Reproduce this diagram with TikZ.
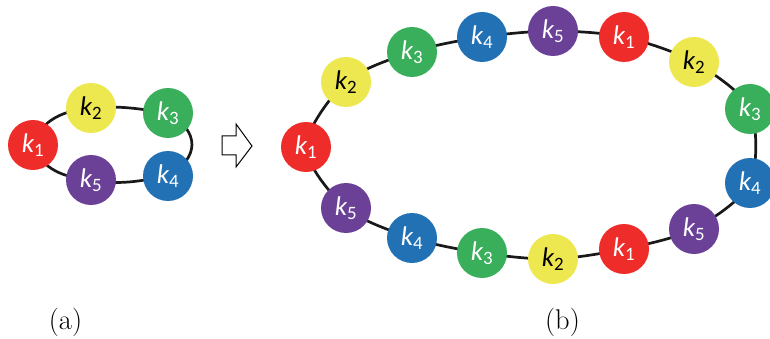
\documentclass[tikz,border=0pt]{standalone}
\usepackage{fontspec}
\usepackage{tikz}
\usetikzlibrary{backgrounds}
\newfontfamily\beadfont{Carlito}
\definecolor{kc1}{RGB}{238,45,42}
\definecolor{kc2}{RGB}{237,232,80}
\definecolor{kc3}{RGB}{57,174,91}
\definecolor{kc4}{RGB}{33,113,180}
\definecolor{kc5}{RGB}{107,65,152}
\colorlet{kt1}{white}
\colorlet{kt2}{black}
\colorlet{kt3}{white}
\colorlet{kt4}{white}
\colorlet{kt5}{white}
\newcommand{\kk}[1]{{\itshape k}\textsubscript{\upshape #1}}
\begin{document}
\begin{tikzpicture}[x = 1pt, y = 1pt,
    bead/.style = { circle, minimum size = 50pt, inner sep = 0pt,
                    font = \beadfont\fontsize{27}{27}\selectfont },
    loop/.style = { line width = 2.7pt, black!90 },
    caption/.style = { font = \fontsize{28.5}{32}\selectfont }]
    \useasboundingbox (0,0) rectangle (770,-339);

    % (a) small ring
    \foreach \n/\x/\y/\k in {1/33/145/1, 2/91/108/2, 3/168/113/3, 4/168/176/4, 5/91/180/5}
      \node [bead, fill = kc\k, text = kt\k] (a\n) at (\x,-\y) { \kk{\k} };
    \begin{scope}[on background layer]
      \draw [loop] (a1.center) to [out = 72, in = 185] (a2.center)
                   to [out = 5, in = 172] (a3.center)
                   to [out = -30, in = 30, looseness = 1.5] (a4.center)
                   to [out = 190, in = -10] (a5.center)
                   to [out = 175, in = -70] (a1.center);
    \end{scope}

    % hollow arrow
    \draw [line width = 1pt] (222,-136) -- (236,-136) -- (236,-124) -- (252,-146)
          -- (236,-167) -- (236,-155) -- (222,-155) -- cycle;

    % (b) large ring
    \foreach \n/\x/\y/\k in {1/306/147/1, 2/346/82/2, 3/412/52/3, 4/482/37/4, 5/553/31/5,
                            6/624/37/1, 7/694/62/2, 8/750/109/3, 9/750/183/4, 10/694/229/5,
                            11/624/249/1, 12/553/259/2, 13/482/253/3, 14/412/238/4, 15/346/208/5}
      \node [bead, fill = kc\k, text = kt\k] (b\n) at (\x,-\y) { \kk{\k} };
    \begin{scope}[on background layer]
      \draw [loop] plot [smooth cycle] coordinates { (b1) (b2) (b3) (b4) (b5) (b6) (b7) (b8)
                                                     (b9) (b10) (b11) (b12) (b13) (b14) (b15) };
    \end{scope}

    \node [caption] (capa) at (65.5,-322) {(a)};
    \node [caption] (capb) at (562.5,-322) {(b)};
\end{tikzpicture}
\end{document}
